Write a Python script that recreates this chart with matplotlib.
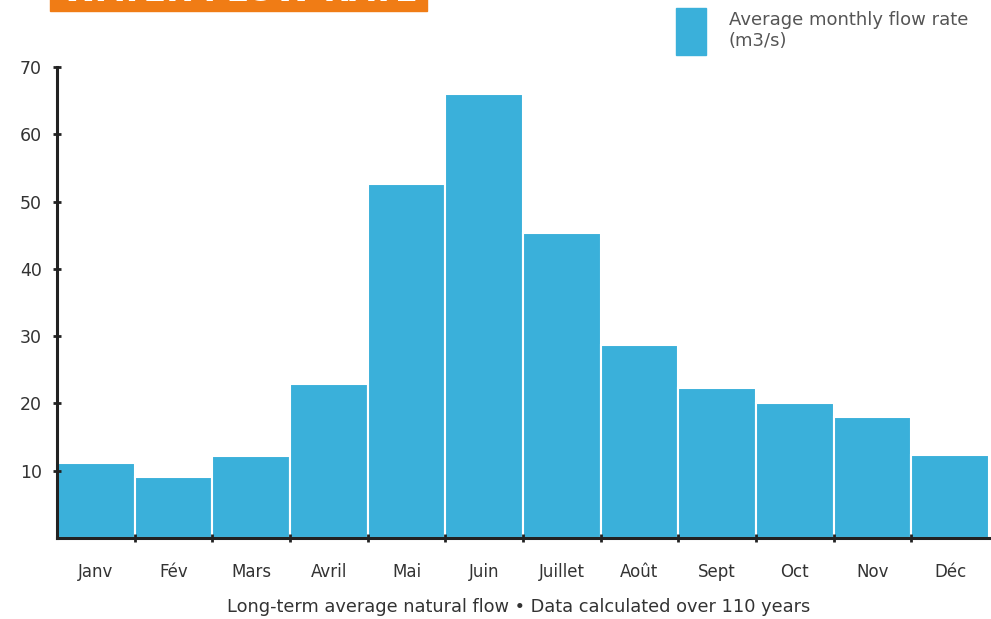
import numpy as np
import matplotlib.pyplot as plt
from matplotlib.patches import Rectangle

# Monthly values
months = ['Janv', 'Fév', 'Mars', 'Avril', 'Mai', 'Juin',
          'Juillet', 'Août', 'Sept', 'Oct', 'Nov', 'Déc']
flow = [11.1, 9.1, 12.2, 22.9, 52.6, 66.0, 45.3, 28.7, 22.3, 20.1, 18.0, 12.3]
yticks = [10, 20, 30, 40, 50, 60, 70]

blue = '#3AB0DA'
orange = '#F07C15'
dark = '#222222'

plt.rcParams['font.family'] = ['DejaVu Sans']

fig = plt.figure(figsize=(9.91, 6.19), dpi=100)
W, H = 991, 619
ax = fig.add_axes([57 / W, 1 - 538 / H, (989 - 57) / W, (538 - 67) / H])

x = np.arange(len(months))
ax.bar(x, flow, width=1, align='edge', color=blue, edgecolor='white', linewidth=1.5)

ax.set_xlim(0, len(months))
ax.set_ylim(0, 70)

# boundary ticks on x, labels centred under bars
ax.set_xticks(np.arange(1, len(months)))
ax.set_xticklabels([])
ax.set_xticks(x + 0.5, minor=True)
ax.set_xticklabels(months, minor=True, fontsize=12, color='#333333')
ax.tick_params(axis='x', which='major', direction='inout', length=6, width=2, color=dark)
ax.tick_params(axis='x', which='minor', length=0, pad=18)

ax.set_yticks(yticks)
ax.set_yticklabels([str(v) for v in yticks], fontsize=12.5, color='#333333')
ax.tick_params(axis='y', direction='inout', length=6, width=2, color=dark, pad=8)

for s in ['top', 'right']:
    ax.spines[s].set_visible(False)
for s in ['left', 'bottom']:
    ax.spines[s].set_linewidth(2.2)
    ax.spines[s].set_color(dark)

fig.text(519 / W, 1 - 607 / H, 'Long-term average natural flow • Data calculated over 110 years',
         ha='center', va='center', fontsize=12.8, color='#333333')

# title box (cut off at top of image)
fig.patches.append(Rectangle((50 / W, 1 - 11 / H), (427 - 50) / W, 11 / H + 0.02,
                             transform=fig.transFigure, color=orange, zorder=1))
fig.text(240 / W, 1 - 1 / H, 'WATER FLOW RATE', ha='center', va='baseline',
         fontsize=24, fontweight='bold', color='white', zorder=2)

# legend
fig.patches.append(Rectangle((676 / W, 1 - 55 / H), 30 / W, 47 / H,
                             transform=fig.transFigure, color=blue))
fig.text(729 / W, 1 - 20 / H, 'Average monthly flow rate', ha='left', va='center',
         fontsize=13, color='#555555')
fig.text(729 / W, 1 - 41 / H, '(m3/s)', ha='left', va='center',
         fontsize=13, color='#555555')

fig.savefig('out.png', dpi=100)
